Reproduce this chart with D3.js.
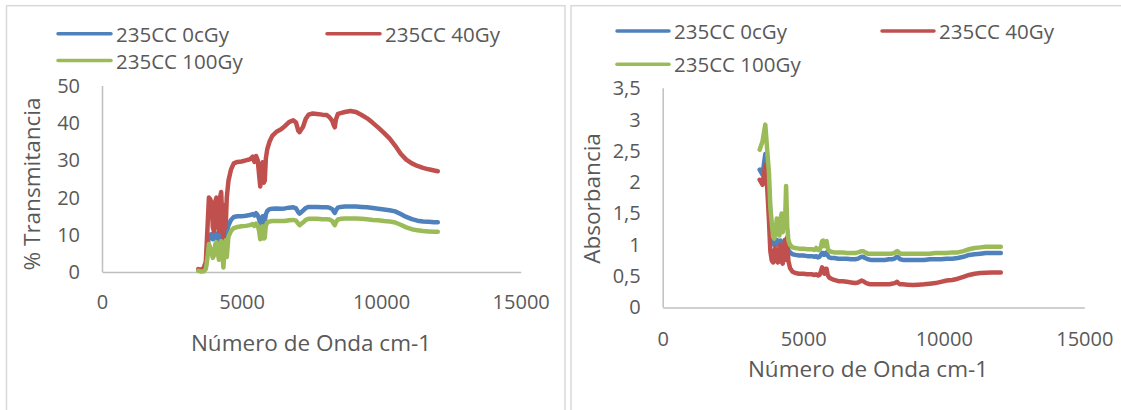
<!DOCTYPE html>
<html>
<head>
<meta charset="utf-8">
<script src="https://cdn.jsdelivr.net/npm/d3@7"></script>
<style>
  html, body { margin: 0; padding: 0; background: #ffffff; }
  svg { display: block; }
  text { font-family: "Open Sans", sans-serif; fill: #595959; }
</style>
</head>
<body>
<svg id="chart" width="1121" height="410"></svg>
<script>
// Wavenumber grid (cm-1) shared by all spectra
const numeroDeOnda = [3450, 3550, 3650, 3720, 3780, 3830, 3880, 3930, 3970, 4010,
  4060, 4100, 4150, 4190, 4230, 4270, 4310, 4350, 4390, 4430,
  4470, 4530, 4620, 4720, 4850, 5000, 5150, 5300, 5400, 5460,
  5520, 5580, 5630, 5670, 5710, 5750, 5790, 5830, 5870, 5920,
  6000, 6100, 6250, 6400, 6550, 6700, 6850, 6950, 7030, 7080,
  7130, 7200, 7300, 7400, 7550, 7700, 7900, 8050, 8150, 8250,
  8300, 8340, 8380, 8450, 8550, 8700, 8900, 9100, 9300, 9500,
  9700, 9900, 10100, 10300, 10500, 10700, 10900, 11100, 11300, 11500,
  11700, 11900, 12030];

// % Transmitancia
const transmitancia0cGy = [0.5, 0.4, 0.6, 1.5, 6, 10, 9.5, 10.2, 8.8, 9,
  9.8, 10.3, 9, 8.6, 10, 10.3, 9.2, 8.6, 9.5, 9.8,
  10.5, 12.5, 14, 14.8, 15, 15, 15.1, 15.3, 15.6, 15.2,
  15.8, 15.2, 14.2, 13, 14.2, 15, 13.2, 13.5, 15.5, 16.4,
  16.9, 17, 17.1, 17, 17.1, 17.3, 17.4, 17.1, 16.1, 15.7,
  16, 16.5, 17.2, 17.5, 17.5, 17.5, 17.4, 17.4, 17.3, 16.9,
  16.3, 15.9, 16.6, 17.3, 17.5, 17.6, 17.6, 17.6, 17.5, 17.4,
  17.2, 17.0, 16.8, 16.6, 16.3, 15.6, 14.8, 14.2, 13.8, 13.6,
  13.5, 13.4, 13.4];

const transmitancia40Gy = [0.8, 0.5, 1.2, 2.8, 12, 20, 19.5, 18.5, 12, 11,
  19, 20, 13, 11, 20, 21.5, 14, 8, 18, 12,
  20, 24.5, 27.5, 29.2, 29.6, 29.7, 30, 30.3, 31, 29.6,
  31.2, 30, 26, 23, 27, 29.5, 24, 24.5, 30.5, 33,
  35, 36.6, 37.7, 38.3, 39.2, 40.3, 40.8, 40.2, 38, 37.6,
  38.2, 39, 41.2, 42.3, 42.6, 42.5, 42.3, 42.2, 41.6, 40.6,
  39.5, 38.9, 41, 42.5, 42.7, 43, 43.3, 43, 42.2, 41.3,
  40.1, 38.8, 37.4, 35.9, 34, 31.8, 30.2, 29.2, 28.5, 28,
  27.6, 27.3, 27.1];

const transmitancia100Gy = [0.3, 0.1, 0.2, 0.8, 4, 7.5, 6.5, 5, 3.8, 4.5,
  7.5, 8, 5, 3.3, 6.5, 8.3, 5, 1.2, 6, 8.5,
  4, 9.5, 11, 11.8, 12.1, 12.3, 12.4, 12.6, 12.9, 12.4,
  13, 12.5, 11, 8.8, 11, 12.3, 9, 9.2, 12.5, 13.3,
  13.6, 13.7, 13.7, 13.7, 13.7, 13.9, 14, 13.8, 13, 12.6,
  12.9, 13.3, 14, 14.3, 14.3, 14.3, 14.2, 14.2, 14.1, 13.7,
  13, 12.6, 13.4, 14.1, 14.3, 14.4, 14.4, 14.4, 14.3, 14.2,
  14, 13.9, 13.7, 13.6, 13.3, 12.7, 12, 11.5, 11.2, 11,
  10.9, 10.8, 10.8];

// Absorbancia
const absorbancia0cGy = [2.2, 2.12, 2.45, 2.3, 1.9, 1.5, 1.2, 1.05, 1.0, 1.02,
  1.08, 1.0, 1.02, 1.07, 1.04, 1.0, 1.05, 1.06, 1.02, 0.98,
  0.92, 0.88, 0.85, 0.84, 0.83, 0.83, 0.82, 0.82, 0.81, 0.82,
  0.8, 0.81, 0.84, 0.87, 0.87, 0.84, 0.87, 0.88, 0.83, 0.8,
  0.79, 0.79, 0.78, 0.78, 0.78, 0.77, 0.77, 0.78, 0.8, 0.81,
  0.81, 0.79, 0.77, 0.76, 0.76, 0.76, 0.76, 0.77, 0.77, 0.78,
  0.8, 0.81, 0.8, 0.77, 0.76, 0.76, 0.76, 0.76, 0.76, 0.77,
  0.77, 0.77, 0.78, 0.78, 0.79, 0.81, 0.84, 0.85, 0.86, 0.87,
  0.87, 0.87, 0.87];

const absorbancia40Gy = [2.04, 1.96, 2.28, 1.9, 1.4, 0.9, 0.75, 0.72, 0.9, 0.95,
  0.74, 0.72, 0.88, 1.0, 0.73, 0.7, 0.9, 1.08, 0.76, 1.12,
  0.75, 0.63, 0.57, 0.55, 0.54, 0.54, 0.53, 0.53, 0.52, 0.53,
  0.51, 0.52, 0.58, 0.64, 0.58, 0.54, 0.62, 0.62, 0.52, 0.48,
  0.46, 0.44, 0.42, 0.42, 0.41, 0.4, 0.39, 0.4, 0.42, 0.43,
  0.42, 0.4, 0.38, 0.37, 0.37, 0.37, 0.37, 0.37, 0.38, 0.39,
  0.4, 0.41, 0.39, 0.37, 0.37, 0.365, 0.36, 0.365, 0.37, 0.38,
  0.39, 0.41, 0.43, 0.44, 0.46, 0.49, 0.52, 0.54, 0.55, 0.555,
  0.56, 0.56, 0.56];

const absorbancia100Gy = [2.52, 2.65, 2.92, 2.5, 2.15, 1.6, 1.35, 1.13, 1.1, 1.2,
  1.42, 1.2, 1.15, 1.4, 1.5, 1.2, 1.45, 1.3, 1.94, 1.3,
  1.08, 1.0, 0.96, 0.95, 0.94, 0.94, 0.93, 0.93, 0.92, 0.95,
  0.92, 0.92, 0.97, 1.06, 1.07, 0.98, 1.05, 1.06, 0.95, 0.9,
  0.89, 0.88, 0.88, 0.88, 0.87, 0.87, 0.87, 0.88, 0.89, 0.9,
  0.9, 0.88, 0.86, 0.86, 0.86, 0.86, 0.86, 0.86, 0.86, 0.87,
  0.89, 0.9, 0.89, 0.86, 0.86, 0.86, 0.86, 0.86, 0.86, 0.86,
  0.87, 0.87, 0.87, 0.88, 0.88, 0.9, 0.93, 0.95, 0.96, 0.97,
  0.97, 0.97, 0.97];

const seriesNames = ["235CC 0cGy", "235CC 40Gy", "235CC 100Gy"];
const seriesColors = ["#4f81bd", "#c0504d", "#9bbb59"];
const xTicks = [0, 5000, 10000, 15000];
const yTicksTransmitancia = [0, 10, 20, 30, 40, 50];
const yTicksAbsorbancia = [0, 0.5, 1, 1.5, 2, 2.5, 3, 3.5];

const svg = d3.select("#chart");
const commaFormat = v => String(v).replace(".", ",");

function drawPanel(p) {
  const g = svg.append("g");

  // chart frame
  g.append("rect")
    .attr("x", p.frame[0]).attr("y", p.frame[1])
    .attr("width", p.frame[2]).attr("height", p.frame[3])
    .attr("fill", "#ffffff").attr("stroke", "#d9d9d9").attr("stroke-width", 1.5);

  const x = d3.scaleLinear().domain([0, 15000]).range(p.xRange);
  const y = d3.scaleLinear().domain(p.yDomain).range(p.yRange);

  const xAxis = g.append("g")
    .attr("transform", `translate(0,${p.yRange[0]})`)
    .call(d3.axisBottom(x).tickValues(xTicks).tickSize(0).tickPadding(p.xPad)
      .tickFormat(d3.format("d")));
  const yAxis = g.append("g")
    .attr("transform", `translate(${p.xRange[0]},0)`)
    .call(d3.axisLeft(y).tickValues(p.yTicks).tickSize(0).tickPadding(p.yPad)
      .tickFormat(commaFormat));

  [xAxis, yAxis].forEach(a => {
    a.select(".domain").attr("stroke", "#bfbfbf").attr("stroke-width", 1.5);
    a.selectAll("text")
      .attr("fill", "#595959")
      .style("font-family", '"Open Sans", sans-serif')
      .style("font-size", "20px");
  });
  yAxis.select(".domain").remove();
  yAxis.append("line")
    .attr("x1", 0.5).attr("x2", 0.5)
    .attr("y1", p.yRange[0]).attr("y2", p.yRange[1])
    .attr("stroke", "#bfbfbf").attr("stroke-width", 1.5);

  // spectra
  const line = d3.line()
    .x((d, i) => x(numeroDeOnda[i]))
    .y(d => y(d));
  p.series.forEach((vals, k) => {
    g.append("path")
      .datum(vals)
      .attr("d", line)
      .attr("fill", "none")
      .attr("stroke", seriesColors[k])
      .attr("stroke-width", 4.5)
      .attr("stroke-linejoin", "round")
      .attr("stroke-linecap", "round");
  });

  // axis titles
  g.append("text")
    .attr("x", p.xTitle[0]).attr("y", p.xTitle[1])
    .attr("text-anchor", "middle").attr("dominant-baseline", "central")
    .style("font-size", "22.5px")
    .text("Número de Onda cm-1");
  g.append("text")
    .attr("transform", `translate(${p.yTitle[0]},${p.yTitle[1]}) rotate(-90)`)
    .attr("text-anchor", "middle").attr("dominant-baseline", "central")
    .style("font-size", "22.5px")
    .text(p.yLabel);

  // legend
  seriesNames.forEach((name, k) => {
    const pos = p.legend[k];
    g.append("line")
      .attr("x1", pos[0]).attr("x2", pos[0] + p.legendLine)
      .attr("y1", pos[1]).attr("y2", pos[1])
      .attr("stroke", seriesColors[k]).attr("stroke-width", 3.5)
      .attr("stroke-linecap", "round");
    g.append("text")
      .attr("x", pos[0] + p.legendLine + 5).attr("y", pos[1])
      .attr("dominant-baseline", "central")
      .style("font-size", "20.5px")
      .text(name);
  });
}

drawPanel({
  frame: [6.5, 5.7, 558.5, 430],
  xRange: [102, 520.7],
  yDomain: [0, 50],
  yRange: [272, 86],
  yTicks: yTicksTransmitancia,
  xPad: 23, yPad: 22,
  series: [transmitancia0cGy, transmitancia40Gy, transmitancia100Gy],
  xTitle: [311, 342],
  yTitle: [31.6, 184],
  yLabel: "% Transmitancia",
  legend: [[58, 33.7], [327, 33.7], [58, 60.5]],
  legendLine: 53
});

drawPanel({
  frame: [571, 5.7, 580, 430],
  xRange: [662.7, 1084.3],
  yDomain: [0, 3.5],
  yRange: [307.5, 88.3],
  yTicks: yTicksAbsorbancia,
  xPad: 24, yPad: 22,
  series: [absorbancia0cGy, absorbancia40Gy, absorbancia100Gy],
  xTitle: [868, 368],
  yTitle: [591.7, 198.4],
  yLabel: "Absorbancia",
  legend: [[617, 31], [882, 31], [617, 64.3]],
  legendLine: 52
});
</script>
</body>
</html>
